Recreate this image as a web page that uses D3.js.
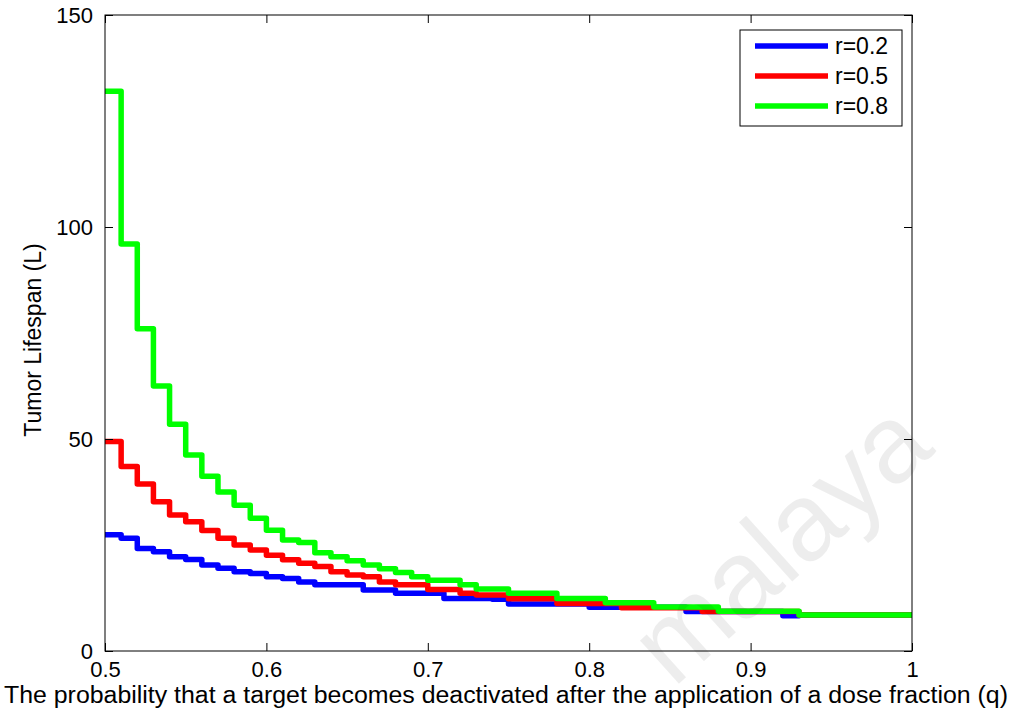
<!DOCTYPE html>
<html>
<head>
<meta charset="utf-8">
<script src="https://cdn.jsdelivr.net/npm/d3@7"></script>
<style>
  body { margin: 0; background: #fff; }
  text { font-family: "Liberation Sans", Arial, sans-serif; }
</style>
</head>
<body>
<div class="container"></div>
<script>
// q values (step starts), last point closes the final step at q = 1
const qValues = [0.50, 0.51, 0.52, 0.53, 0.54, 0.55, 0.56, 0.57, 0.58, 0.59,
                 0.60, 0.61, 0.62, 0.63, 0.64, 0.65, 0.66, 0.67, 0.68, 0.69,
                 0.70, 0.71, 0.72, 0.73, 0.74, 0.75, 0.76, 0.77, 0.78, 0.79,
                 0.80, 0.81, 0.82, 0.83, 0.84, 0.85, 0.86, 0.87, 0.88, 0.89,
                 0.90, 0.91, 0.92, 0.93, 0.94, 0.95, 0.96, 0.97, 0.98, 0.99, 1.00];

const lifespanR02 = [27.4, 26.6, 24.2, 23.4, 22.2, 21.6, 20.3, 19.5, 18.7, 18.3,
                     17.5, 17.1, 16.3, 15.6, 15.6, 15.6, 14.4, 14.4, 13.6, 13.6,
                     13.6, 12.4, 12.4, 12.4, 12.2, 11.1, 11.1, 11.1, 11.1, 11.1,
                     10.3, 10.3, 10.3, 10.3, 10.3, 10.3, 9.3, 9.3, 9.3, 9.3,
                     9.3, 9.3, 8.3, 8.5, 8.5, 8.5, 8.5, 8.5, 8.5, 8.5, 8.5];

const lifespanR05 = [49.4, 43.5, 39.4, 35.2, 32.1, 30.5, 28.4, 26.6, 25.0, 23.8,
                     22.6, 21.5, 20.7, 19.9, 18.7, 17.9, 17.5, 16.3, 15.6, 15.6,
                     14.5, 14.5, 13.6, 13.2, 13.2, 12.3, 12.3, 12.3, 11.2, 11.2,
                     11.2, 11.2, 10.2, 10.2, 10.2, 10.2, 10.2, 9.3, 9.3, 9.3,
                     9.3, 9.3, 9.3, 8.5, 8.5, 8.5, 8.5, 8.5, 8.5, 8.5, 8.5];

const lifespanR08 = [132, 96, 76, 62.5, 53.5, 46.2, 41.2, 37.5, 34.4, 31.3,
                     28.5, 26.2, 25.6, 23.2, 22.2, 21.3, 20.3, 19.4, 18.5, 17.5,
                     16.7, 16.7, 15.6, 14.6, 14.6, 13.6, 13.6, 13.6, 12.4, 12.4,
                     12.4, 11.4, 11.4, 11.4, 10.4, 10.4, 10.4, 10.4, 9.4, 9.4,
                     9.4, 9.4, 9.4, 8.5, 8.5, 8.5, 8.5, 8.5, 8.5, 8.5, 8.5];

const seriesNames = ['r=0.2', 'r=0.5', 'r=0.8'];
const seriesColors = ['#0000ff', '#ff0000', '#00ff00'];
const xTicks = [0.5, 0.6, 0.7, 0.8, 0.9, 1];
const yTicks = [0, 50, 100, 150];

const width = 1015;
const height = 720;

const margin = {
    top: 15,
    right: 103,
    bottom: 69,
    left: 105
}

const plotWidth = width - margin.left - margin.right;
const plotHeight = height - margin.top - margin.bottom;

const svg = d3.select('.container')
    .append('svg')
    .attr('width', width)
    .attr('height', height);

const mainGroup = svg.append('g')
    .attr('transform', `translate(${margin.left}, ${margin.top})`);

const xScale = d3.scaleLinear()
    .domain([0.5, 1])
    .range([0, plotWidth]);

const yScale = d3.scaleLinear()
    .domain([0, 150])
    .range([plotHeight, 0]);

// series, blue first so green sits on top
const allSeries = [lifespanR02, lifespanR05, lifespanR08];

const lineGenerator = d3.line()
    .x((d, i) => xScale(qValues[i]))
    .y(d => yScale(d))
    .curve(d3.curveStepAfter);

mainGroup.selectAll('.series')
    .data(allSeries)
    .join('path')
    .attr('class', 'series')
    .attr('d', d => lineGenerator(d))
    .attr('fill', 'none')
    .attr('stroke', (d, i) => seriesColors[i])
    .attr('stroke-width', 5.5)
    .attr('stroke-linejoin', 'round');

// axes with inward ticks on all four sides
const tickLen = 8;
const styleAxis = g => {
    g.select('.domain').remove();
    g.selectAll('.tick line').attr('stroke', '#000');
    g.selectAll('.tick text')
        .attr('font-size', 22)
        .attr('fill', '#000');
};

mainGroup.append('g')
    .attr('transform', `translate(0, ${plotHeight})`)
    .call(d3.axisBottom(xScale).tickValues(xTicks).tickFormat(d3.format('')).tickSizeInner(-tickLen).tickPadding(tickLen + 2))
    .call(styleAxis);

mainGroup.append('g')
    .call(d3.axisTop(xScale).tickValues(xTicks).tickSizeInner(-tickLen).tickFormat(''))
    .call(styleAxis);

mainGroup.append('g')
    .call(d3.axisLeft(yScale).tickValues(yTicks).tickSizeInner(-tickLen).tickPadding(tickLen + 4))
    .call(styleAxis);

mainGroup.append('g')
    .attr('transform', `translate(${plotWidth}, 0)`)
    .call(d3.axisRight(yScale).tickValues(yTicks).tickSizeInner(-tickLen).tickFormat(''))
    .call(styleAxis);

mainGroup.append('rect')
    .attr('width', plotWidth)
    .attr('height', plotHeight)
    .attr('fill', 'none')
    .attr('stroke', '#000')
    .attr('stroke-width', 1);

// axis titles
svg.append('text')
    .attr('x', 4)
    .attr('y', 703)
    .attr('font-size', 23)
    .attr('textLength', 1004)
    .attr('lengthAdjust', 'spacingAndGlyphs')
    .text('The probability that a target becomes deactivated after the application of a dose fraction (q)');

svg.append('text')
    .attr('transform', 'translate(41, 340) rotate(-90)')
    .attr('text-anchor', 'middle')
    .attr('font-size', 23)
    .text('Tumor Lifespan (L)');

// legend
const legend = svg.append('g')
    .attr('transform', 'translate(740, 30)');

legend.append('rect')
    .attr('width', 162)
    .attr('height', 96)
    .attr('fill', '#fff')
    .attr('stroke', '#000');

const legendItems = legend.selectAll('.item')
    .data(seriesNames)
    .join('g')
    .attr('class', 'item')
    .attr('transform', (d, i) => `translate(0, ${16 + i * 30})`);

legendItems.append('line')
    .attr('x1', 15)
    .attr('x2', 88)
    .attr('stroke', (d, i) => seriesColors[i])
    .attr('stroke-width', 5.5);

legendItems.append('text')
    .attr('x', 95)
    .attr('y', 8)
    .attr('font-size', 23)
    .text(d => d);

// faint watermark over the plot
svg.append('text')
    .attr('transform', 'translate(805, 570) rotate(-42)')
    .attr('text-anchor', 'middle')
    .attr('font-size', 110)
    .attr('fill', '#000')
    .attr('fill-opacity', 0.07)
    .text('malaya');
</script>
</body>
</html>
